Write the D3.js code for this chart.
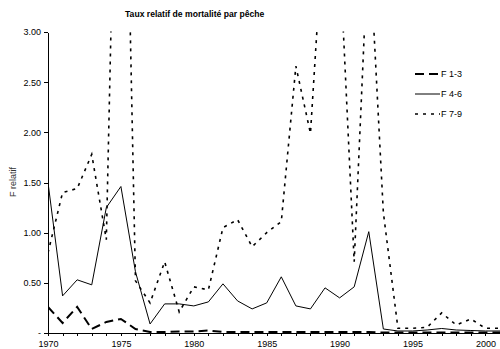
<!DOCTYPE html>
<html>
<head>
<meta charset="utf-8">
<script src="https://cdn.jsdelivr.net/npm/d3@7"></script>
<style>
    body { margin: 0; background: #fff; }
    svg { display: block; font-family: "Liberation Sans", Arial, sans-serif; }
    .axis path, .axis line { stroke: #000; shape-rendering: crispEdges; }
    .axis text { fill: #000; font-size: 9px; }
</style>
</head>
<body>
<svg class="chart"></svg>
<script>
// years on the x axis
let years = [1970, 1971, 1972, 1973, 1974, 1975, 1976, 1977, 1978, 1979,
    1980, 1981, 1982, 1983, 1984, 1985, 1986, 1987, 1988, 1989,
    1990, 1991, 1992, 1993, 1994, 1995, 1996, 1997, 1998, 1999,
    2000, 2001];
let yearLabels = [1970, 1975, 1980, 1985, 1990, 1995, 2000];
let yTicks = [0, 0.5, 1, 1.5, 2, 2.5, 3];

// relative F by age group
let f13 = [0.26, 0.10, 0.26, 0.04, 0.11, 0.14, 0.04, 0.01, 0.01, 0.015,
    0.015, 0.025, 0.01, 0.01, 0.01, 0.01, 0.01, 0.01, 0.01, 0.01,
    0.01, 0.01, 0.01, 0.005, 0.005, 0.005, 0.005, 0.005, 0.005, 0.005,
    0.005, 0.005];
let f46 = [1.50, 0.37, 0.53, 0.48, 1.25, 1.46, 0.61, 0.09, 0.29, 0.29,
    0.27, 0.31, 0.49, 0.32, 0.24, 0.30, 0.56, 0.27, 0.24, 0.45,
    0.35, 0.46, 1.01, 0.04, 0.02, 0.02, 0.03, 0.045, 0.03, 0.025,
    0.02, 0.02];
let f79 = [0.80, 1.40, 1.44, 1.78, 0.93, 7.5, 0.52, 0.30, 0.71, 0.21,
    0.46, 0.43, 1.05, 1.13, 0.86, 1.00, 1.11, 2.66, 1.99, 4.3,
    3.8, 0.71, 4.0, 1.2, 0.047, 0.047, 0.057, 0.20, 0.08, 0.14,
    0.047, 0.047];

let seriesNames = ["F 1-3", "F 4-6", "F 7-9"];
let seriesValues = [f13, f46, f79];

let width = 500, height = 349;
let margin = {top: 32, left: 48, bottom: 16};

let svg = d3.select(".chart")
    .attr("width", width)
    .attr("height", height);

let x = d3.scaleLinear()
    .domain([1970, 2001])
    .range([margin.left, 500]);

let y = d3.scaleLinear()
    .domain([0, 3])
    .range([height - margin.bottom, margin.top]);

// line styles per series
let styles = [
    {width: 2, dash: "9,5"},
    {width: 1, dash: null},
    {width: 1.6, dash: "3,5"}
];

svg.append("defs").append("clipPath")
    .attr("id", "plot")
    .append("rect")
    .attr("x", margin.left)
    .attr("y", y(3) - 0.5)
    .attr("width", width - margin.left + 10)
    .attr("height", y(0) - y(3) + 2);

// title
svg.append("text")
    .attr("x", 125)
    .attr("y", 17)
    .attr("font-size", "8.6px")
    .attr("font-weight", "bold")
    .text("Taux  relatif de mortalité par pêche");

// y axis
svg.append("g")
    .attr("class", "axis axis--y")
    .attr("transform", "translate(" + margin.left + ",0)")
    .call(d3.axisLeft(y)
        .tickValues(yTicks)
        .tickSize(4)
        .tickSizeOuter(0)
        .tickFormat(function (d) {
            return d === 0 ? "-" : d3.format(".2f")(d);
        }));

svg.append("text")
    .attr("transform", "translate(16,182) rotate(-90)")
    .attr("text-anchor", "middle")
    .attr("font-size", "9px")
    .attr("fill", "#333")
    .text("F relatif");

// x axis
svg.append("g")
    .attr("class", "axis axis--x")
    .attr("transform", "translate(0," + y(0) + ")")
    .call(d3.axisBottom(x)
        .tickValues(years)
        .tickSize(3)
        .tickSizeOuter(0)
        .tickPadding(5)
        .tickFormat(function (d) {
            return yearLabels.indexOf(d) >= 0 ? d : "";
        }));

// lines
let line = d3.line()
    .x(function (d, i) { return x(years[i]); })
    .y(function (d) { return y(d); });

let lines = svg.append("g").attr("clip-path", "url(#plot)");

seriesValues.forEach(function (vals, k) {
    lines.append("path")
        .datum(vals)
        .attr("fill", "none")
        .attr("stroke", "#000")
        .attr("stroke-width", styles[k].width)
        .attr("stroke-dasharray", styles[k].dash)
        .attr("d", line);
});

// legend
let legend = svg.append("g")
    .selectAll("g")
    .data(seriesNames)
    .enter().append("g")
    .attr("transform", function (d, i) {
        return "translate(415," + (74 + i * 20) + ")";
    });

legend.append("line")
    .attr("x1", 0)
    .attr("x2", 25)
    .attr("stroke", "#000")
    .attr("stroke-width", function (d, i) { return styles[i].width; })
    .attr("stroke-dasharray", function (d, i) { return styles[i].dash; });

legend.append("text")
    .attr("x", 26)
    .attr("dy", ".35em")
    .attr("font-size", "9px")
    .text(function (d) { return d; });
</script>
</body>
</html>
